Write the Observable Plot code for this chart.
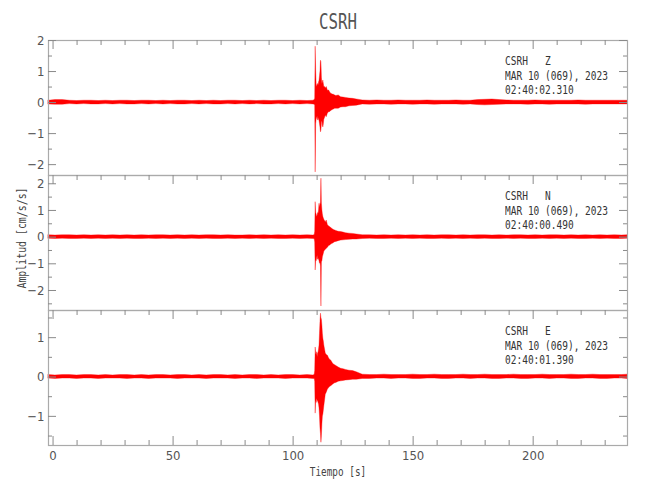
<!DOCTYPE html>
<html><head><meta charset="utf-8">
<script src="https://cdn.jsdelivr.net/npm/d3@7"></script>
<script src="https://cdn.jsdelivr.net/npm/@observablehq/plot@0.6"></script>
<style>
body{margin:0;background:#fff;}
#wrap{position:relative;width:650px;height:500px;background:#fff;overflow:hidden;}
#wrap svg{position:absolute;left:0;}
.t{position:absolute;white-space:pre;line-height:1;color:#333;font-family:"DejaVu Sans Mono","Liberation Mono",monospace;}
</style></head><body><div id="wrap"></div>
<script>
// ---- data ----
const time = [
 -1.9,1,4,7,10,13,16,19,22,25,28,31,34,37,40,43,46,49,52,55,58,61,64,67,70,73,76,79,82,85,88,91,94,97,100,103,106,108.5,
 109.0,109.2,109.4,109.6,109.8,110.0,110.2,110.4,110.6,110.8,
 111.0,111.2,111.4,111.6,111.8,112.0,112.2,112.4,112.6,112.8,
 113.0,113.3,113.6,114.0,114.5,115.0,115.5,116.0,116.5,117.0,
 117.5,118.0,119.0,120.0,121.0,122.0,123.5,125.0,126.5,
 129,132,135,138,141,144,147,150,153,156,159,162,165,168,171,174,177,180,183,186,189,192,195,198,201,204,207,210,213,216,219,222,225,228,231,234,237,239.3
];
// Z component: upper and lower envelope (cm/s/s)
const zHi = [
 0.06,0.08,0.08,0.06,0.05,0.06,0.06,0.05,0.06,0.05, 0.06,0.06,0.05,0.06,0.06,0.05,0.06,0.05,0.06,0.06,
 0.05,0.06,0.05,0.06,0.05,0.06,0.06,0.05,0.06,0.05, 0.06,0.05,0.06,0.06,0.05,0.06,0.05,0.06,
 0.08,0.12,1.8,1.05,0.6,0.5,0.55,0.6,0.55,0.65, 0.7,0.85,1.0,1.35,1.3,0.8,0.6,0.65,0.71,0.6,
 0.5,0.5,0.45,0.5,0.38,0.39,0.32,0.28,0.26,0.25, 0.23,0.21,0.23,0.17,0.16,0.15,0.13,0.12,0.1,
 0.07,0.06,0.07,0.06,0.06,0.07,0.06,0.06,0.06,0.07, 0.06,0.06,0.06,0.07,0.06,0.06,0.08,0.09,0.1,0.08,
 0.07,0.06,0.06,0.06,0.07,0.06,0.06,0.06,0.06,0.06, 0.07,0.06,0.06,0.06,0.06,0.06,0.06,0.06
];
const zLo = [
 -0.06,-0.07,-0.07,-0.05,-0.06,-0.05,-0.06,-0.06,-0.05,-0.06, -0.05,-0.06,-0.06,-0.05,-0.06,-0.05,-0.06,-0.05,-0.06,-0.06,
 -0.05,-0.06,-0.05,-0.06,-0.06,-0.05,-0.06,-0.05,-0.06,-0.05, -0.06,-0.06,-0.05,-0.06,-0.05,-0.06,-0.05,-0.06,
 -0.07,-0.1,-2.25,-0.7,-0.55,-0.5,-0.45,-0.58,-0.5,-0.55, -0.6,-0.7,-0.8,-0.96,-0.9,-0.65,-0.6,-0.75,-0.8,-0.7,
 -0.55,-0.5,-0.42,-0.47,-0.35,-0.31,-0.3,-0.26,-0.24,-0.22, -0.2,-0.2,-0.2,-0.16,-0.15,-0.15,-0.12,-0.11,-0.1,
 -0.06,-0.07,-0.06,-0.06,-0.07,-0.06,-0.06,-0.07,-0.06,-0.06, -0.07,-0.06,-0.06,-0.06,-0.07,-0.06,-0.08,-0.09,-0.08,-0.07,
 -0.06,-0.06,-0.06,-0.07,-0.06,-0.06,-0.07,-0.06,-0.06,-0.06, -0.06,-0.07,-0.06,-0.06,-0.06,-0.06,-0.06,-0.06
];
// N component
const nHi = [
 0.07,0.06,0.07,0.07,0.06,0.07,0.06,0.07,0.06,0.07, 0.06,0.07,0.06,0.07,0.06,0.07,0.07,0.06,0.07,0.06,
 0.07,0.06,0.07,0.07,0.06,0.07,0.06,0.06,0.07,0.06, 0.07,0.06,0.07,0.06,0.07,0.06,0.07,0.06,
 0.08,0.2,1.31,0.9,0.85,0.75,0.8,0.9,0.88,1.0, 1.25,1.1,1.2,1.3,2.19,1.25,1.0,0.85,0.75,0.7,
 0.65,0.6,0.55,0.62,0.45,0.4,0.37,0.33,0.3,0.27, 0.25,0.23,0.2,0.19,0.17,0.15,0.13,0.12,0.1,
 0.07,0.07,0.06,0.07,0.06,0.07,0.06,0.07,0.06,0.07, 0.06,0.07,0.07,0.06,0.07,0.06,0.07,0.07,0.06,0.07,
 0.06,0.07,0.07,0.06,0.07,0.06,0.07,0.07,0.06,0.07, 0.06,0.07,0.06,0.07,0.06,0.07,0.06,0.07
];
const nLo = [
 -0.06,-0.07,-0.06,-0.07,-0.07,-0.06,-0.07,-0.06,-0.07,-0.06, -0.07,-0.06,-0.07,-0.07,-0.06,-0.07,-0.06,-0.07,-0.06,-0.07,
 -0.06,-0.07,-0.06,-0.07,-0.07,-0.06,-0.07,-0.06,-0.07,-0.06, -0.07,-0.06,-0.07,-0.07,-0.06,-0.07,-0.06,-0.07,
 -0.08,-0.2,-1.25,-0.88,-0.9,-0.8,-0.7,-0.85,-0.8,-0.85, -0.9,-1.0,-0.95,-1.1,-2.6,-0.94,-0.9,-0.75,-0.69,-0.62,
 -0.55,-0.5,-0.48,-0.44,-0.4,-0.33,-0.31,-0.27,-0.25,-0.22, -0.19,-0.18,-0.15,-0.13,-0.12,-0.11,-0.1,-0.09,-0.09,
 -0.07,-0.06,-0.07,-0.07,-0.06,-0.07,-0.06,-0.07,-0.06,-0.07, -0.07,-0.06,-0.07,-0.06,-0.07,-0.06,-0.07,-0.06,-0.07,-0.07,
 -0.06,-0.07,-0.06,-0.07,-0.07,-0.06,-0.07,-0.06,-0.07,-0.06, -0.07,-0.07,-0.06,-0.07,-0.06,-0.07,-0.07,-0.06
];
// E component
const eHi = [
 0.05,0.04,0.05,0.05,0.04,0.05,0.05,0.04,0.05,0.04, 0.05,0.05,0.04,0.05,0.04,0.05,0.05,0.04,0.05,0.05,
 0.04,0.05,0.04,0.05,0.05,0.04,0.05,0.04,0.05,0.05, 0.04,0.05,0.04,0.05,0.05,0.04,0.05,0.04,
 0.06,0.15,0.75,0.6,0.55,0.63,0.5,0.6,0.62,0.7, 0.8,1.1,1.4,1.61,1.5,1.45,1.3,1.1,0.97,0.9,
 0.8,0.7,0.6,0.56,0.54,0.47,0.43,0.41,0.35,0.32, 0.3,0.28,0.24,0.21,0.2,0.18,0.16,0.15,0.12,
 0.06,0.05,0.05,0.06,0.05,0.05,0.05,0.06,0.05,0.05, 0.06,0.05,0.05,0.05,0.06,0.05,0.05,0.06,0.05,0.05,
 0.05,0.06,0.05,0.05,0.05,0.06,0.05,0.05,0.05,0.06, 0.05,0.05,0.06,0.05,0.05,0.05,0.05,0.06
];
const eLo = [
 -0.04,-0.05,-0.04,-0.04,-0.05,-0.04,-0.04,-0.05,-0.04,-0.04, -0.04,-0.05,-0.04,-0.04,-0.05,-0.04,-0.04,-0.04,-0.05,-0.04,
 -0.04,-0.04,-0.05,-0.04,-0.04,-0.04,-0.05,-0.04,-0.04,-0.05, -0.04,-0.04,-0.04,-0.05,-0.04,-0.04,-0.04,-0.05,
 -0.05,-0.12,-0.93,-0.6,-0.66,-0.55,-0.6,-0.62,-0.66,-0.7, -0.8,-1.0,-1.3,-1.45,-1.67,-1.5,-1.2,-1.0,-0.95,-0.85,
 -0.74,-0.6,-0.45,-0.4,-0.32,-0.28,-0.25,-0.23,-0.2,-0.18, -0.16,-0.15,-0.12,-0.11,-0.1,-0.09,-0.08,-0.07,-0.07,
 -0.05,-0.05,-0.04,-0.04,-0.05,-0.04,-0.04,-0.05,-0.05,-0.04, -0.04,-0.05,-0.05,-0.04,-0.04,-0.05,-0.04,-0.04,-0.05,-0.05,
 -0.04,-0.04,-0.05,-0.05,-0.04,-0.04,-0.05,-0.04,-0.04,-0.05, -0.05,-0.04,-0.04,-0.05,-0.05,-0.04,-0.04,-0.05
];
const xMajor = [0, 50, 100, 150, 200];
const xMinor = [10,20,30,40,60,70,80,90,110,120,130,140,160,170,180,190,210,220,230];
const yMajorZ = [2, 1, 0, -1, -2], yMinorZ = [1.5, 0.5, -0.5, -1.5];
const yMajorN = [2, 1, 0, -1, -2], yMinorN = [1.5, 0.5, -0.5, -1.5, -2.5];
const yMajorE = [1, 0, -1],        yMinorE = [1.5, 0.5, -0.5, -1.5];
const station = "CSRH";
const components = ["Z", "N", "E"];
const dateLabel = "MAR 10 (069), 2023";
const startTimes = ["02:40:02.310", "02:40:00.490", "02:40:01.390"];
const titleText = "CSRH";
const xTitle = "Tiempo [s]";
const yTitle = "Amplitud [cm/s/s]";

// ---- layout ----
const wrap = document.getElementById("wrap");
const W = 650, ML = 48, MR = 23, FW = W - ML - MR, FH = 135;
const RED = "#ff0000", FRAME = "#aaaaaa", TICK = "#8a8a8a";
const fmt = d => d < 0 ? "\u2212" + (-d) : String(d);
const tickFont = '"Liberation Sans Narrow","DejaVu Sans Condensed","Liberation Sans",sans-serif';

const panels = [
  {hi: zHi, lo: zLo, domain: [-2.35, 2.0], major: yMajorZ, minor: yMinorZ, top: 40},
  {hi: nHi, lo: nLo, domain: [-2.75, 2.31], major: yMajorN, minor: yMinorN, top: 175},
  {hi: eHi, lo: eLo, domain: [-1.74, 1.69], major: yMajorE, minor: yMinorE, top: 310}
];

panels.forEach((p, i) => {
  const last = i === panels.length - 1;
  const mT = 2, mB = last ? 40 : 2;
  if (p.hi.length !== time.length || p.lo.length !== time.length) console.error("length mismatch", i, p.hi.length, p.lo.length, time.length);
  const data = time.map((t, k) => ({t, hi: p.hi[k], lo: p.lo[k]}));
  const marks = [
    Plot.areaY(data, {x: "t", y1: "lo", y2: "hi", fill: RED, stroke: RED, strokeWidth: 0.35, curve: "linear"}),
    Plot.frame({stroke: FRAME, strokeWidth: 1.2}),
    Plot.ruleY(p.major, {y: d => d, insetRight: FW - 8, stroke: TICK}),
    Plot.ruleY(p.minor, {y: d => d, insetRight: FW - 4, stroke: TICK}),
    Plot.ruleY(p.major, {y: d => d, insetLeft: FW - 8, stroke: TICK}),
    Plot.ruleY(p.minor, {y: d => d, insetLeft: FW - 4, stroke: TICK}),
    Plot.ruleX(xMajor, {x: d => d, insetBottom: FH - 9, stroke: TICK}),
    Plot.ruleX(xMinor, {x: d => d, insetBottom: FH - 5, stroke: TICK}),
    Plot.axisY({anchor: "left", ticks: p.major, tickSize: 0, tickPadding: 4, tickFormat: fmt,
                fontSize: 13, fill: "#555", label: null})
  ];
  if (last) {
    marks.push(
      Plot.ruleX(xMajor, {x: d => d, insetTop: FH - 9, stroke: TICK}),
      Plot.ruleX(xMinor, {x: d => d, insetTop: FH - 5, stroke: TICK}),
      Plot.axisX({anchor: "bottom", ticks: xMajor, tickSize: 0, tickPadding: 5, tickFormat: fmt,
                  fontSize: 13, fill: "#555", label: null})
    );
  }
  const svg = Plot.plot({
    width: W, height: FH + mT + mB,
    marginLeft: ML, marginRight: MR, marginTop: mT, marginBottom: mB,
    style: `background: transparent; overflow: visible; font-family: ${tickFont};`,
    x: {domain: [-1.9, 239.3], axis: last ? undefined : null},
    y: {domain: p.domain},
    marks
  });
  svg.style.top = (p.top - mT) + "px";
  wrap.appendChild(svg);

  const lines = [station + "   " + components[i], dateLabel, startTimes[i]];
  lines.forEach((s, j) => {
    const d = document.createElement("div");
    d.className = "t";
    d.textContent = s;
    d.style.fontSize = "12.5px";
    d.style.left = "505px";
    d.style.top = (p.top + 25.5 + j * 14.5 - 10.5) + "px";
    d.style.transformOrigin = "0 0";
    d.style.transform = "scaleX(0.76)";
    wrap.appendChild(d);
  });
});

function centered(txt, x, y, size, sx, rot, color) {
  const d = document.createElement("div");
  d.className = "t";
  d.textContent = txt;
  d.style.fontSize = size + "px";
  d.style.left = x + "px";
  d.style.top = y + "px";
  d.style.color = color || "#444";
  d.style.transform = `translate(-50%,-50%) rotate(${rot || 0}deg) scaleX(${sx})`;
  wrap.appendChild(d);
}
centered(titleText, 337.5, 22, 21, 0.75, 0, "#555");
centered(xTitle, 337.5, 471, 13, 0.72, 0);
centered(yTitle, 21, 238, 13, 0.76, -90);
</script></body></html>
